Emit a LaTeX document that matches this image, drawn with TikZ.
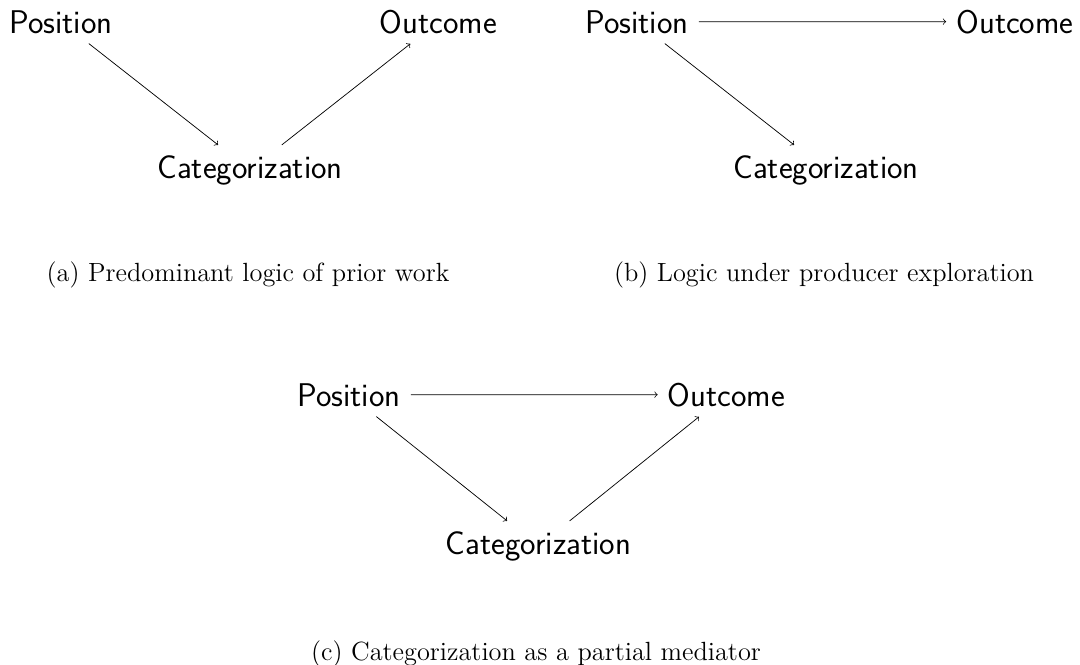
\documentclass[tikz,border=0pt]{standalone}
\usepackage{fontspec}
\begin{document}
\begin{tikzpicture}[x=0.5546pt,y=-0.5546pt,
  var/.style={font=\fontsize{18.2}{22}\selectfont\sffamily, inner sep=5.5pt, anchor=base},
  captext/.style={font=\fontsize{14.6}{17}\selectfont\rmfamily, inner sep=0pt, anchor=base},
  link/.style={->}]
\useasboundingbox (0,0) rectangle (1080,664);
% (a)
\node[var] (pa) at (61,33) {Position};
\node[var] (oa) at (438.5,33) {Outcome};
\node[var] (ca) at (250,178) {Categorization};
\draw[link] (pa) -- (ca);
\draw[link] (ca) -- (oa);
\node[captext] (capa) at (248,281) {(a) Predominant logic of prior work};
% (b)
\node[var] (pb) at (637,33) {Position};
\node[var] (ob) at (1015,33) {Outcome};
\node[var] (cb) at (826,178) {Categorization};
\draw[link] (pb) -- (ob);
\draw[link] (pb) -- (cb);
\node[captext] (capb) at (824,281) {(b) Logic under producer exploration};
% (c)
\node[var] (pc) at (349,406) {Position};
\node[var] (oc) at (726.5,406) {Outcome};
\node[var] (cc) at (538.5,554) {Categorization};
\draw[link] (pc) -- (oc);
\draw[link] (pc) -- (cc);
\draw[link] (cc) -- (oc);
\node[captext] (capc) at (536,660) {(c) Categorization as a partial mediator};
\end{tikzpicture}
\end{document}
